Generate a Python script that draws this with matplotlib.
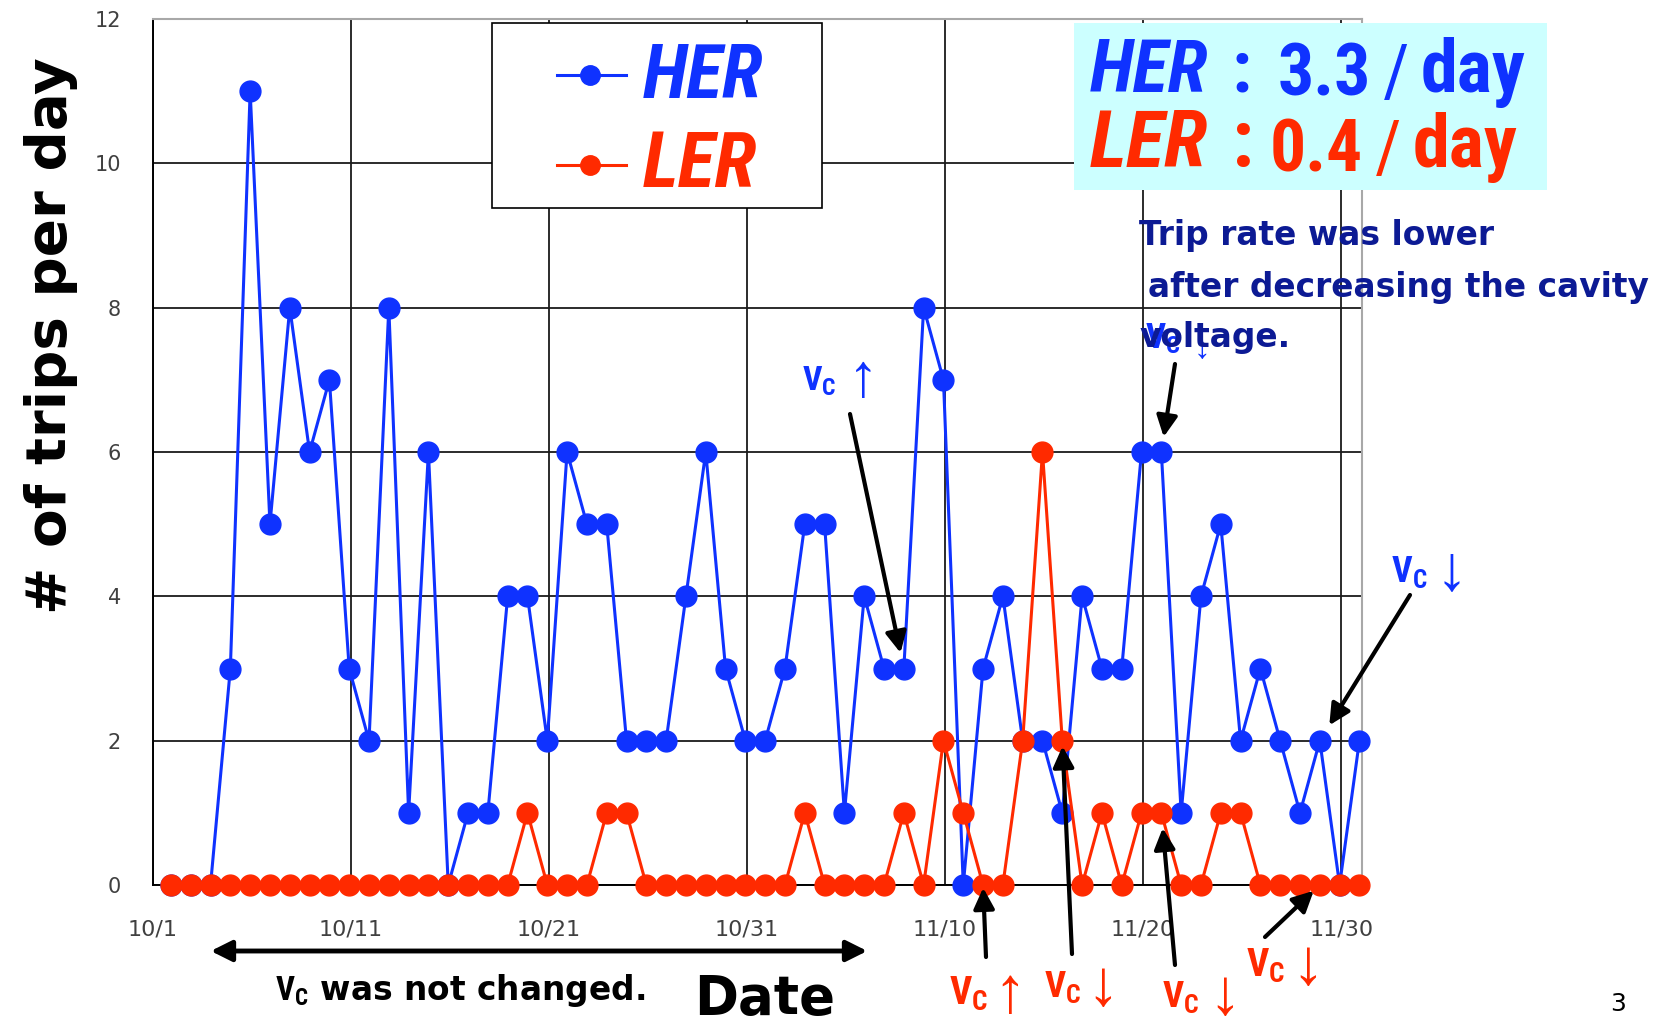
import numpy as np
import matplotlib
matplotlib.use("Agg")
import matplotlib.pyplot as plt
from matplotlib import font_manager as fm
from matplotlib.patches import Rectangle, FancyArrowPatch
from matplotlib.lines import Line2D

# ---------------------------------------------------------------- data
# daily number of RF trips, 10/1 .. 11/30
her = [0, 0, 0, 3, 11, 5, 8, 6, 7, 3,
       2, 8, 1, 6, 0, 1, 1, 4, 4, 2,
       6, 5, 5, 2, 2, 2, 4, 6, 3, 2,
       2, 3, 5, 5, 1, 4, 3, 3, 8, 7,
       0, 3, 4, 2, 2, 1, 4, 3, 3, 6,
       6, 1, 4, 5, 2, 3, 2, 1, 2, 0,
       2]
ler = [0, 0, 0, 0, 0, 0, 0, 0, 0, 0,
       0, 0, 0, 0, 0, 0, 0, 0, 1, 0,
       0, 0, 1, 1, 0, 0, 0, 0, 0, 0,
       0, 0, 1, 0, 0, 0, 0, 1, 0, 2,
       1, 0, 0, 2, 6, 2, 0, 1, 0, 1,
       1, 0, 0, 1, 1, 0, 0, 0, 0, 0,
       0]
tick_days = [0, 10, 20, 30, 40, 50, 60]
tick_labels = ["10/1", "10/11", "10/21", "10/31", "11/10", "11/20", "11/30"]
y_ticks = [0, 2, 4, 6, 8, 10, 12]

BLUE = "#0F32FF"
RED = "#FF2A00"
NAVY = "#0C1A94"
CYAN = "#CCFFFF"

_names = {f.name for f in fm.fontManager.ttflist}
COND = next((n for n in ("Roboto Condensed", "Liberation Sans Narrow",
                         "Open Sans Condensed", "Roboto") if n in _names),
            "DejaVu Sans")
ARROWFONT = ["Liberation Sans", "DejaVu Sans"]
plt.rcParams["mathtext.fontset"] = "custom"
plt.rcParams["mathtext.rm"] = COND
plt.rcParams["mathtext.bf"] = COND + ":bold"
plt.rcParams["mathtext.it"] = COND + ":italic"

W, H = 1672, 1022
fig = plt.figure(figsize=(W / 100, H / 100), dpi=100)
renderer = fig.canvas.get_renderer()


def fx(px):
    return px / W


def fy(py):
    return 1 - py / H


def place(s, left, base, width, **kw):
    """Put text with its left/baseline at pixel position, sized to a width."""
    t = fig.text(fx(left), fy(base), s, ha="left", va="baseline",
                 fontsize=20, **kw)
    w = t.get_window_extent(renderer).width
    t.set_fontsize(20 * width / w)
    return t


# ---------------------------------------------------------------- axes
ax_l, ax_r, ax_t, ax_b = 152.7, 1362, 19, 885
ax = fig.add_axes([fx(ax_l), fy(ax_b), (ax_r - ax_l) / W, (ax_b - ax_t) / H])
xs = np.arange(len(her)) + 0.92

ax.plot(xs, her, "-o", color=BLUE, lw=2.2, ms=15, clip_on=False, zorder=3)
ax.plot(xs, ler, "-o", color=RED, lw=2.2, ms=15, clip_on=False, zorder=4)

ax.set_xlim(0, 61.05)
ax.set_ylim(0, 12)
ax.set_xticks(tick_days)
ax.set_xticklabels(tick_labels)
ax.set_yticks(y_ticks)
ax.grid(True, color="#1a1a1a", lw=1.3)
ax.set_axisbelow(True)
ax.tick_params(length=0, colors="#404040")
ax.tick_params(axis="x", pad=25, labelsize=16)
ax.tick_params(axis="y", pad=23, labelsize=15)
for side in ("left", "bottom"):
    ax.spines[side].set_color("black")
    ax.spines[side].set_linewidth(1.4)
for side in ("top", "right"):
    ax.spines[side].set_color("#a8a8a8")
    ax.spines[side].set_linewidth(1.5)

# y axis title
yl = fig.text(fx(51), fy(336), "# of trips per day", rotation=90,
              ha="center", va="center", fontsize=30, fontweight="bold",
              color="black")
yl.set_fontsize(30 * 557 / yl.get_window_extent(renderer).height)

# ---------------------------------------------------------------- legend
fig.add_artist(Rectangle((fx(492), fy(208)), (822 - 492) / W, (208 - 23) / H,
                         transform=fig.transFigure, facecolor="white",
                         edgecolor="black", lw=1.2, zorder=5))
for color, yy in ((BLUE, 75), (RED, 165)):
    fig.add_artist(Line2D([fx(557), fx(626)], [fy(yy), fy(yy)],
                          transform=fig.transFigure, color=color, lw=2.2,
                          zorder=6))
    fig.add_artist(Line2D([fx(590)], [fy(yy)], transform=fig.transFigure,
                          marker="o", ms=14, color=color, zorder=6))
place("HER", 643, 98, 120, color=BLUE, family=COND, weight="bold",
      style="italic", zorder=7)
place("LER", 643, 187, 114, color=RED, family=COND, weight="bold",
      style="italic", zorder=7)

# ---------------------------------------------------------------- rate box
fig.add_artist(Rectangle((fx(1074), fy(190)), (1547 - 1074) / W,
                         (190 - 23.5) / H, transform=fig.transFigure,
                         facecolor=CYAN, edgecolor="none", zorder=5))
for name, val, color, b1, b2, l2, lslash, lday in (
        ("HER", "3.3", BLUE, 92, 96, 1278, 1383, 1421),
        ("LER", "0.4", RED, 167, 172, 1270, 1375, 1413)):
    tn = place(name, 1090, b1, 118, color=color, family=COND, weight="bold",
               style="italic", zorder=7)
    fig.text(fx(1232), fy(b1), ":", ha="left", va="baseline",
             fontsize=tn.get_fontsize(), color=color, family=COND,
             weight="bold", zorder=7)
    tv = place(val, l2, b2, 93, color=color, family=COND, weight="bold",
               zorder=7)
    fig.text(fx(lslash), fy(b2), "/", ha="left", va="baseline",
             fontsize=tv.get_fontsize(), color=color, family=COND, zorder=7)
    place("day", lday, b1, 105, color=color, family=COND, weight="bold",
          zorder=7)

# ---------------------------------------------------------------- notes
VC = r"$\mathbf{V}_{\mathbf{C}}$"

# (colour, arrow glyph, Vc left, Vc baseline, Vc width,
#  glyph left, glyph baseline, glyph size)
vc_labels = [(BLUE, "↓", 1145, 348, 36, 1194, 358, 24),
             (BLUE, "↑", 802, 391, 35, 848, 396, 44),
             (BLUE, "↓", 1391, 582, 37, 1436, 589, 46),
             (RED, "↑", 949, 1005, 40, 993, 1012, 47),
             (RED, "↓", 1044, 997, 38, 1086, 1005, 47),
             (RED, "↓", 1162, 1007, 38, 1208, 1014, 47),
             (RED, "↓", 1246, 977, 40, 1291, 984, 47)]
for color, glyph, vl, vb, vw, gl, gb, gs in vc_labels:
    place(VC, vl, vb, vw, color=color, family=COND, zorder=6)
    fig.text(fx(gl), fy(gb), glyph, ha="left", va="baseline", fontsize=gs,
             color=color, family=ARROWFONT, zorder=6)

t2 = place("after decreasing the cavity", 1148, 297, 503, color=NAVY,
           family="DejaVu Sans", weight="bold", zorder=7)
for s, left, base in (("Trip rate was lower", 1139, 245),
                      ("voltage.", 1139, 347)):
    fig.text(fx(left), fy(base), s, ha="left", va="baseline",
             fontsize=t2.get_fontsize(), color=NAVY, family="DejaVu Sans",
             weight="bold", zorder=7)

arrow_kw = dict(arrowstyle="-|>,head_length=0.9,head_width=0.45",
                color="black", lw=3, shrinkA=0, mutation_scale=14)
# (series, day index, tail pixel, shrink toward the point in pt)
pointers = [(her, 37, (850, 414), 11.5),
            (her, 50, (1175, 364), 11),
            (her, 58, (1410, 595), 13),
            (ler, 41, (986, 957), 2),
            (ler, 45, (1072, 954), 4),
            (ler, 50, (1175, 965), 11),
            (ler, 58, (1265, 937), 6)]
for series, i, (tx, ty), sb in pointers:
    ax.annotate("", xy=(xs[i], series[i]), xycoords="data",
                xytext=(fx(tx), fy(ty)), textcoords="figure fraction",
                arrowprops=dict(shrinkB=sb, **arrow_kw),
                annotation_clip=False, zorder=8)

fig.add_artist(FancyArrowPatch((fx(208), fy(951)), (fx(870), fy(951)),
                               transform=fig.transFigure,
                               arrowstyle="<|-|>,head_length=0.9,head_width=0.45",
                               mutation_scale=14, lw=3.5, color="black",
                               zorder=6))
place(VC + " was not changed.", 275, 1000, 371,
      color="black", family="DejaVu Sans", weight="bold")
place("Date", 694, 1014, 141, color="black", family="DejaVu Sans",
      weight="bold")
place("3", 1610, 1011, 16, color="black", family="DejaVu Sans")

fig.savefig("out.png", dpi=100)
